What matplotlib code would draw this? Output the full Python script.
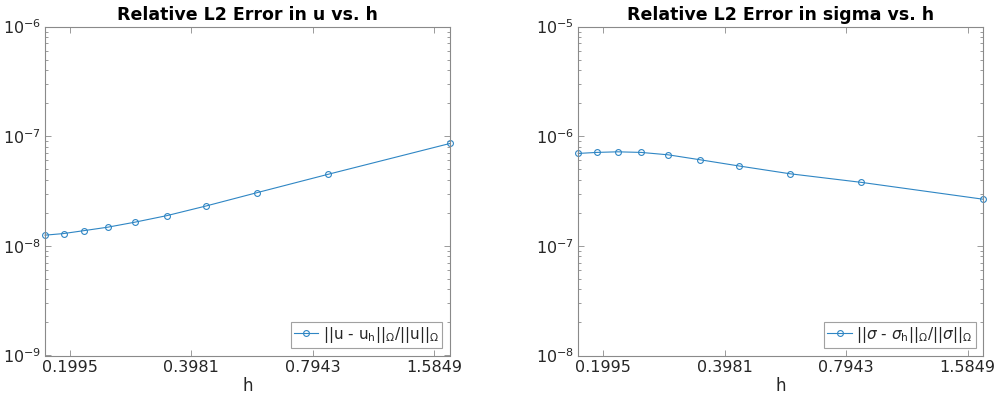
import numpy as np
import matplotlib
matplotlib.use("Agg")
import matplotlib.pyplot as plt
from matplotlib.ticker import LogLocator, FixedLocator, FixedFormatter, LogFormatterMathtext, NullLocator

# Data
h = [1.7321, 0.8660, 0.5774, 0.4330, 0.3464, 0.2887, 0.2474, 0.2165, 0.1925, 0.1732]
err_u = [8.58e-8, 4.49e-8, 3.05e-8, 2.31e-8, 1.886e-8, 1.643e-8, 1.479e-8, 1.377e-8, 1.294e-8, 1.251e-8]
err_sigma = [2.66e-7, 3.79e-7, 4.54e-7, 5.34e-7, 6.09e-7, 6.76e-7, 7.11e-7, 7.20e-7, 7.11e-7, 6.96e-7]

xticks = [0.1995, 0.3981, 0.7943, 1.5849]
xticklabels = ["0.1995", "0.3981", "0.7943", "1.5849"]

titles = ["Relative L2 Error in u vs. h", "Relative L2 Error in sigma vs. h"]
labels = [r"$||u$ - $u_h||_\Omega/||u||_\Omega$",
          r"$||\mathit{\sigma}$ - $\mathit{\sigma}_h||_\Omega/||\mathit{\sigma}||_\Omega$"]
ylims = [(1e-9, 1e-6), (1e-8, 1e-5)]
series = [err_u, err_sigma]

plt.rcParams["mathtext.default"] = "regular"
plt.rcParams["font.family"] = ["DejaVu Sans"]

fig = plt.figure(figsize=(9.98, 4.05), dpi=100)
W, H = 998, 405
axes_px = [(45, 450), (578.3, 983.3)]
top_px, bot_px = 26.5, 355.5

line_color = "#2f86c4"
axis_color = "#8a8a8a"
text_color = "#262626"

for i in range(2):
    x0, x1 = axes_px[i]
    ax = fig.add_axes([x0 / W, 1 - bot_px / H, (x1 - x0) / W, (bot_px - top_px) / H])
    ax.plot(h, series[i], "-o", color=line_color, lw=0.8, ms=4.2, mew=0.8,
            mfc="none", label=labels[i], clip_on=False)
    ax.set_xscale("log")
    ax.set_yscale("log")
    ax.set_xlim(min(h), max(h))
    ax.set_ylim(*ylims[i])
    ax.xaxis.set_major_locator(FixedLocator(xticks))
    ax.xaxis.set_major_formatter(FixedFormatter(xticklabels))
    ax.xaxis.set_minor_locator(NullLocator())
    ax.yaxis.set_major_locator(LogLocator(base=10, numticks=10))
    ax.yaxis.set_major_formatter(LogFormatterMathtext())
    ax.yaxis.set_minor_locator(LogLocator(base=10, subs=np.arange(2, 10), numticks=20))
    ax.tick_params(which="both", direction="in", top=True, right=True,
                   color=axis_color, labelcolor=text_color, labelsize=11.5)
    ax.tick_params(which="major", length=4.5, width=0.6)
    ax.tick_params(which="minor", length=2.5, width=0.6)
    ax.tick_params(axis="x", pad=3)
    ax.tick_params(axis="y", pad=3)
    for s in ax.spines.values():
        s.set_color(axis_color)
        s.set_linewidth(0.8)
    ax.set_title(titles[i], fontsize=12.5, fontweight="bold", pad=5, color="black")
    ax.set_xlabel("h", fontsize=12, color=text_color, labelpad=2)
    leg = ax.legend(loc="lower right", fontsize=11, frameon=True, fancybox=False,
                    edgecolor=axis_color, handlelength=1.6, handletextpad=0.3,
                    borderpad=0.2, borderaxespad=0.5)
    leg.get_frame().set_linewidth(0.8)
    for t in leg.get_texts():
        t.set_color(text_color)

fig.savefig("out.png", dpi=100)
